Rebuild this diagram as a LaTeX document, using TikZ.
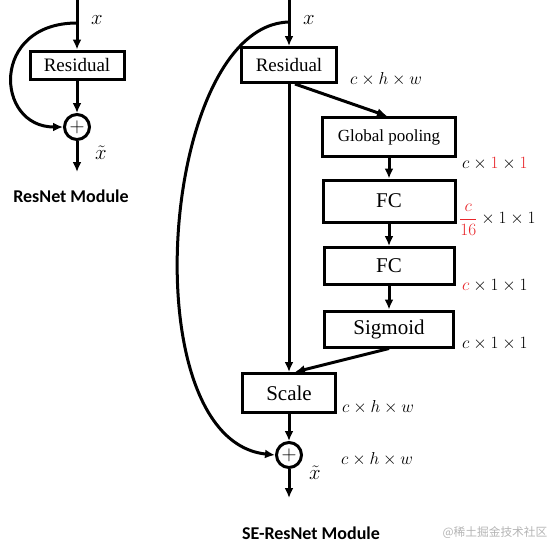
\documentclass[tikz,border=0pt]{standalone}
\usepackage{amsmath}
\usepackage{fontspec}
\setmainfont{Liberation Serif}
\newfontfamily\calibri{Carlito}
\newfontfamily\cjk{Noto Sans CJK SC}
\usepackage{tikz}
\usetikzlibrary{positioning,arrows.meta}
\definecolor{dimred}{HTML}{E8262A}
\definecolor{markgray}{HTML}{B4B4B4}

\begin{document}
\begin{tikzpicture}[x=1pt,y=-1pt,
  blockbox/.style={draw=black, line width=3pt, inner sep=0pt, font=\fontsize{21}{23}\selectfont},
  sumnode/.style={draw=black, circle, line width=3pt, minimum size=25pt, inner sep=0pt, font=\fontsize{22}{24}\selectfont},
  flow/.style={line width=3pt, -{Latex[length=10pt,width=9pt]}},
  dimlabel/.style={font=\fontsize{17}{19}\selectfont, anchor=west, inner sep=0pt},
  varlabel/.style={font=\fontsize{21}{23}\selectfont, inner sep=0pt},
  title/.style={font=\calibri\bfseries\fontsize{18}{20}\selectfont},
]
\useasboundingbox (0,0) rectangle (551,547);

% ResNet module
\coordinate (ltop) at (77,0);
\coordinate (lsplit) at (77,23);
\node[blockbox, minimum width=94pt, minimum height=28pt, font=\fontsize{19}{21}\selectfont] (lres) at (77,65) {Residual};
\node[sumnode] (lsum) at (77,127) {$+$};
\coordinate (lout) at (77,172);
\draw[flow] (ltop) -- (lres.north);
\draw[flow] (lres.south) -- (lsum.north);
\draw[flow] (lsum.south) -- (lout);
\draw[flow] (lsplit) .. controls (-10,23) and (-5,127) .. (lsum.west);
\node[varlabel] (lx) at (97,20) {$x$};
\node[varlabel] (lxt) at (101,153) {$\tilde{x}$};
\node[title] (ltitle) at (71,196) {ResNet Module};

% SE-ResNet module
\coordinate (rtop) at (289,0);
\coordinate (rsplit) at (289,22);
\node[blockbox, minimum width=95pt, minimum height=35pt, font=\fontsize{19}{21}\selectfont] (rres) at (289,65) {Residual};
\node[blockbox, minimum width=133pt, minimum height=39pt, font=\fontsize{17}{19}\selectfont] (pool) at (389,137) {Global pooling};
\node[blockbox, minimum width=132pt, minimum height=42pt] (fca) at (389,201) {FC};
\node[blockbox, minimum width=130pt, minimum height=37pt] (fcb) at (389,266) {FC};
\node[blockbox, minimum width=129pt, minimum height=36pt] (sig) at (389,329) {Sigmoid};
\node[blockbox, minimum width=93pt, minimum height=39pt] (scale) at (289,393) {Scale};
\node[sumnode] (rsum) at (289,455) {$+$};
\coordinate (rout) at (289,498);

\draw[flow] (rtop) -- (rres.north);
\draw[flow] (rres.south) -- (scale.north);
\draw[flow] ([xshift=6pt]rres.south) -- ([xshift=-2pt]pool.north);
\draw[flow] (pool.south) -- (fca.north);
\draw[flow] (fca.south) -- (fcb.north);
\draw[flow] (fcb.south) -- (sig.north);
\draw[flow] (sig.south) -- ([xshift=6pt]scale.north);
\draw[flow] (scale.south) -- (rsum.north);
\draw[flow] (rsum.south) -- (rout);
\draw[flow] (rsplit) .. controls (160,25) and (130,440) .. (rsum.west);

\node[varlabel] (rx) at (309,20) {$x$};
\node[varlabel] (rxt) at (315,473) {$\tilde{x}$};

\node[dimlabel] (dres) at (350,79) {$c\times h\times w$};
\node[dimlabel] (dpool) at (462,164) {$c\times{\color{dimred}1}\times{\color{dimred}1}$};
\node[dimlabel] (dfca) at (459,220) {${\color{dimred}\dfrac{c}{16}}\times1\times1$};
\node[dimlabel] (dfcb) at (462,286) {${\color{dimred}c}\times1\times1$};
\node[dimlabel] (dsig) at (462,344) {$c\times1\times1$};
\node[dimlabel] (dscale) at (342,407) {$c\times h\times w$};
\node[dimlabel] (dsum) at (341,459) {$c\times h\times w$};

\node[title] (rtitle) at (311,533) {SE-ResNet Module};
\node[font=\cjk\fontsize{11.7}{13}\selectfont, text=markgray, inner sep=0pt] (mark) at (495,533) {@稀土掘金技术社区};
\end{tikzpicture}
\end{document}
